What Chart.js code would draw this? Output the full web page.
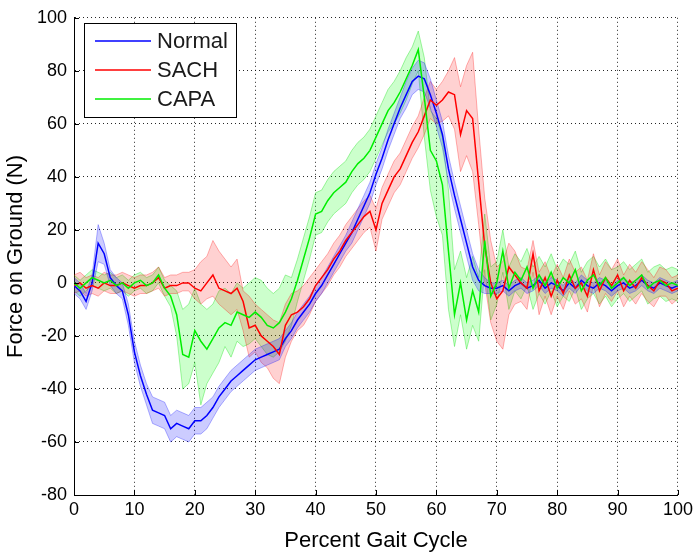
<!DOCTYPE html>
<html>
<head>
<meta charset="utf-8">
<title>Force on Ground</title>
<script src="https://cdn.jsdelivr.net/npm/chart.js@4"></script>
<style>
  html, body { margin: 0; padding: 0; background: #fff; }
  canvas { display: block; }
</style>
</head>
<body>
<canvas id="gaitChart" width="697" height="552"></canvas>
<script>
// percent gait cycle samples
const pct = [0,1,2,3,4,5,6,7,8,9,10,11,12,13,14,15,16,17,18,19,20,21,22,23,24,25,26,27,28,29,
  30,31,32,33,34,35,36,37,38,39,40,41,42,43,44,45,46,47,48,49,50,51,52,53,54,55,56,57,58,59,
  60,61,62,63,64,65,66,67,68,69,70,71,72,73,74,75,76,77,78,79,80,81,82,83,84,85,86,87,88,89,
  90,91,92,93,94,95,96,97,98,99,100];

const seriesNames = ["Normal", "SACH", "CAPA"];

// ---- Normal (mean, upper, lower)
const normal = [-1,-3,-7,0,15,11,2,-1,-3,-12,
  -26,-35,-42,-48,-49,-50,-55,-53,-54,-55,
  -52,-52,-50,-47,-43,-40,-37,-35,-33,-31,
  -29,-28,-27,-26,-25,-21,-18,-14,-11,-8,
  -4,-1,3,7,11,15,19,24,29,34,
  41,47,54,60,66,71,76,78,77,71,
  64,56,43,33,24,15,6,1,-1,-2,
  -2,-1,-3,-1,0,-2,-1,1,-2,0,
  -1,-3,0,-2,1,-1,-2,0,-1,-3,
  -1,0,-2,-1,1,-1,-2,0,-1,-2,-1];
const normalHi = [2,0,-4,3,22,15,5,2,0,-8,
  -22,-31,-38,-43,-44,-45,-50,-48,-49,-50,
  -47,-47,-45,-43,-39,-36,-33,-31,-29,-27,
  -25,-24,-23,-22,-21,-18,-15,-11,-8,-5,
  -1,2,6,10,14,18,23,28,33,38,
  45,51,58,64,70,76,81,84,83,77,
  69,61,48,38,29,20,11,5,2,0,
  0,1,-1,1,2,0,1,3,0,2,
  1,-1,2,0,3,1,0,2,1,-1,
  1,2,0,1,3,1,0,2,1,0,1];
const normalLo = [-4,-6,-10,-3,8,7,-1,-4,-6,-16,
  -30,-39,-46,-53,-54,-55,-60,-58,-59,-60,
  -57,-57,-55,-51,-47,-44,-41,-39,-37,-35,
  -33,-32,-31,-30,-29,-24,-21,-17,-14,-11,
  -7,-4,0,4,8,12,15,20,25,30,
  37,43,50,56,62,66,71,73,72,66,
  59,51,38,28,19,10,1,-3,-4,-4,
  -4,-3,-5,-3,-2,-4,-3,-1,-4,-2,
  -3,-5,-2,-4,-1,-3,-4,-2,-3,-5,
  -3,-2,-4,-3,-1,-3,-4,-2,-3,-4,-3];

// ---- SACH
const sach = [-1,0,-2,-1,-2,0,-1,-1,0,-1,
  -2,-1,-1,0,2,-2,-1,-1,0,0,
  -2,-3,0,3,-2,-3,-4,-2,-7,-17,
  -16,-20,-22,-24,-27,-16,-12,-11,-9,-6,
  -1,2,5,9,12,16,19,22,25,27,
  20,30,35,40,43,48,53,57,63,69,
  67,69,72,71,56,65,62,38,14,0,
  -6,-3,6,3,0,-2,11,-3,2,-5,
  1,-4,3,-2,0,-5,5,-3,2,-1,
  3,-3,1,-2,2,-1,-3,1,0,-3,-2];
const sachHi = [3,4,2,3,2,4,3,3,4,3,
  2,3,3,4,6,2,3,3,4,4,
  5,8,10,16,12,9,6,9,-3,-5,
  -8,-10,-12,-14,-15,-8,-4,-3,-1,2,
  5,8,11,15,18,22,25,28,31,33,
  28,36,41,46,49,54,59,63,70,76,
  73,76,80,85,74,82,87,58,32,16,
  6,8,15,12,6,5,16,4,8,2,
  7,2,9,4,6,1,11,3,8,5,
  9,3,7,4,8,5,2,6,5,2,3];
const sachLo = [-4,-3,-5,-4,-5,-3,-4,-4,-3,-4,
  -5,-4,-4,-3,-2,-5,-4,-4,-3,-3,
  -6,-8,-6,-5,-8,-10,-12,-10,-18,-28,
  -26,-30,-32,-36,-38,-28,-22,-18,-16,-12,
  -7,-4,-1,3,6,10,13,16,19,21,
  12,24,29,34,37,42,47,51,56,62,
  60,61,63,58,42,48,42,22,0,-15,
  -22,-25,-12,-8,-7,-10,4,-12,-5,-12,
  -5,-10,-3,-8,-6,-11,-1,-9,-4,-7,
  -3,-9,-5,-8,-4,-7,-9,-5,-5,-8,-6];

// ---- CAPA
const capa = [0,-2,0,2,1,0,1,-1,0,-2,
  0,1,-1,0,3,-2,-5,-12,-27,-28,
  -18,-22,-25,-21,-17,-15,-16,-11,-12,-13,
  -11,-13,-16,-17,-15,-11,-6,1,9,17,
  26,27,31,34,36,38,42,45,47,50,
  55,60,65,68,72,77,82,88,70,50,
  46,37,12,-12,0,-14,-3,-11,16,-5,
  0,12,-2,4,1,6,-2,3,-1,4,
  -2,2,0,5,-3,1,3,-1,2,-2,
  0,2,-1,1,3,-2,0,1,-1,0,-1];
const capaHi = [3,1,3,5,4,3,4,2,3,1,
  3,4,2,3,6,1,-1,-3,-10,-8,
  -2,-8,-10,-8,-3,-2,-4,0,-2,0,
  2,1,-2,-4,-2,3,2,9,17,25,
  34,35,39,42,44,46,50,53,55,58,
  63,68,73,76,80,85,89,95,85,65,
  62,55,35,5,12,2,10,2,26,6,
  8,20,6,11,8,13,6,10,6,11,
  5,9,7,12,4,8,10,6,9,5,
  6,8,5,7,9,4,6,7,5,6,5];
const capaLo = [-3,-5,-3,-1,-2,-3,-2,-4,-3,-5,
  -3,-2,-4,-3,0,-5,-9,-20,-40,-38,
  -30,-46,-38,-34,-30,-24,-28,-22,-24,-23,
  -21,-24,-27,-28,-26,-22,-16,-7,1,9,
  18,19,23,26,28,30,34,37,39,42,
  47,52,57,60,64,69,75,80,55,35,
  25,18,-10,-24,-12,-25,-16,-22,5,-14,
  -8,4,-10,-3,-6,-1,-10,-4,-8,-3,
  -9,-5,-7,-2,-10,-6,-4,-8,-5,-9,
  -6,-4,-7,-5,-3,-8,-6,-5,-7,-6,-7];

const xTicks = [0,10,20,30,40,50,60,70,80,90,100];
const yTicks = [-80,-60,-40,-20,0,20,40,60,80,100];

// ============================
function pts(arr) {
  return arr.map((v, i) => ({ x: pct[i], y: v }));
}

function band(arr, edge, fillCol, fill) {
  return {
    data: pts(arr),
    borderColor: edge,
    backgroundColor: fillCol,
    borderWidth: 1,
    pointRadius: 0,
    fill: fill,
    order: 10,
    isBand: true
  };
}

function meanLine(label, arr, col, order) {
  return {
    label: label,
    data: pts(arr),
    borderColor: col,
    backgroundColor: col,
    borderWidth: 1.5,
    pointRadius: 0,
    fill: false,
    order: order
  };
}

// ============================
// legend box drawn in the upper left corner, MATLAB style
const boxLegend = {
  id: "boxLegend",
  afterDraw(chart) {
    const ctx = chart.ctx;
    const lines = chart.data.datasets.filter(d => !d.isBand);
    ctx.save();
    ctx.fillStyle = "#fff";
    ctx.fillRect(84.5, 23.5, 152, 94);
    ctx.strokeStyle = "#000";
    ctx.lineWidth = 1;
    ctx.strokeRect(84.5, 23.5, 152, 94);
    ctx.font = "22px 'Liberation Sans', Arial, sans-serif";
    ctx.textBaseline = "middle";
    seriesNames.forEach((name, i) => {
      const ds = lines.find(d => d.label === name);
      const y = 41 + i * 29;
      ctx.strokeStyle = ds.borderColor;
      ctx.lineWidth = 1.5;
      ctx.beginPath();
      ctx.moveTo(95, y);
      ctx.lineTo(151, y);
      ctx.stroke();
      ctx.fillStyle = "#1a1a1a";
      ctx.fillText(name, 157, y + 1);
    });
    ctx.restore();
  }
};

// small inward tick marks on the two axes
const inTicks = {
  id: "inTicks",
  afterDatasetsDraw(chart) {
    const { ctx, scales: { x, y }, chartArea: a } = chart;
    ctx.save();
    ctx.strokeStyle = "#000";
    ctx.lineWidth = 1;
    ctx.beginPath();
    xTicks.forEach(t => {
      const px = Math.round(x.getPixelForValue(t)) + 0.5;
      ctx.moveTo(px, a.bottom);
      ctx.lineTo(px, a.bottom - 5);
    });
    yTicks.forEach(t => {
      const py = Math.round(y.getPixelForValue(t)) + 0.5;
      ctx.moveTo(a.left, py);
      ctx.lineTo(a.left + 5, py);
    });
    ctx.stroke();
    ctx.restore();
  }
};

// ============================
const tickFont = { family: "'Liberation Sans', Arial, sans-serif", size: 18 };
const titleFont = { family: "'Liberation Sans', Arial, sans-serif", size: 22, lineHeight: 1 };

new Chart(document.getElementById("gaitChart"), {
  type: "line",
  data: {
    datasets: [
      band(normalHi, "rgba(0,0,255,0.3)", "rgba(0,0,255,0.2)", "+1"),
      band(normalLo, "rgba(0,0,255,0.3)", "rgba(0,0,255,0.2)", false),
      band(sachHi, "rgba(255,0,0,0.3)", "rgba(255,0,0,0.18)", "+1"),
      band(sachLo, "rgba(255,0,0,0.3)", "rgba(255,0,0,0.18)", false),
      band(capaHi, "rgba(0,220,0,0.35)", "rgba(0,255,0,0.2)", "+1"),
      band(capaLo, "rgba(0,220,0,0.35)", "rgba(0,255,0,0.2)", false),
      meanLine("Normal", normal, "#0000ff", 3),
      meanLine("SACH", sach, "#ff0000", 2),
      meanLine("CAPA", capa, "#00ee00", 1)
    ]
  },
  options: {
    responsive: false,
    animation: false,
    layout: { autoPadding: false, padding: { top: 15, right: 13, left: 0, bottom: 0 } },
    plugins: {
      legend: { display: false },
      tooltip: { enabled: false }
    },
    elements: { line: { tension: 0 } },
    scales: {
      x: {
        type: "linear",
        min: 0,
        max: 100,
        afterFit: s => { s.height = 57; },
        afterBuildTicks: s => { s.ticks = xTicks.map(v => ({ value: v })); },
        ticks: { font: tickFont, color: "#000", padding: 4, maxRotation: 0 },
        grid: { color: "rgba(0,0,0,0.85)", drawTicks: false, lineWidth: 1 },
        border: { display: true, color: "#000", width: 1, dash: [1, 3] },
        title: { display: true, text: "Percent Gait Cycle", font: titleFont, color: "#000", padding: { top: 0, bottom: 0 } }
      },
      y: {
        type: "linear",
        min: -80,
        max: 100,
        afterFit: s => { s.width = 74; },
        afterBuildTicks: s => { s.ticks = yTicks.map(v => ({ value: v })); },
        ticks: { font: tickFont, color: "#000", padding: 7 },
        grid: { color: "rgba(0,0,0,0.85)", drawTicks: false, lineWidth: 1 },
        border: { display: true, color: "#000", width: 1, dash: [1, 3] },
        title: { display: true, text: "Force on Ground (N)", font: titleFont, color: "#000", padding: { top: 5, bottom: 0 } }
      }
    }
  },
  plugins: [inTicks, boxLegend]
});
</script>
</body>
</html>
